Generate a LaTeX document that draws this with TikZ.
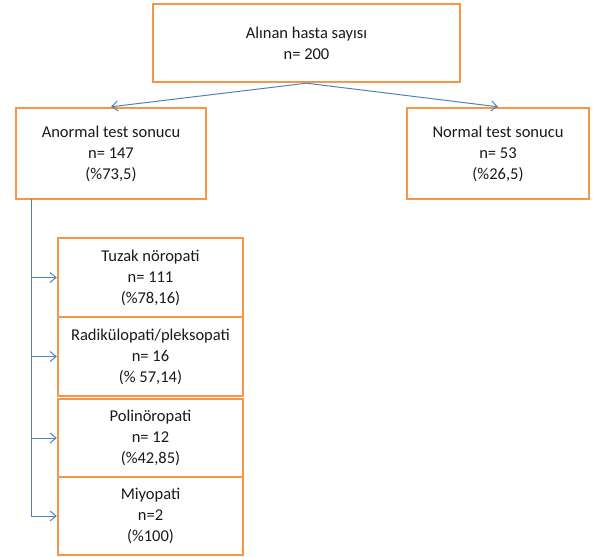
\documentclass[tikz,border=0pt]{standalone}
\usepackage{fontspec}
\setmainfont{Carlito}
\usetikzlibrary{arrows.meta}
\definecolor{boxorange}{HTML}{F79646}
\definecolor{linkblue}{HTML}{4F81BD}
\definecolor{txt}{HTML}{1A1A1A}
\begin{document}
\begin{tikzpicture}[x=1pt,y=-1pt,
  box/.style={draw=boxorange,line width=2.4pt,fill=white,align=center,inner sep=0pt,
    text=txt,font=\fontsize{16.5}{21}\selectfont},
  conn/.style={draw=linkblue,line width=1pt,-{Straight Barb[length=6pt,width=10pt,line width=1pt]}}]
\useasboundingbox (0,0) rectangle (595,557);
\node[box,minimum width=307pt,minimum height=78pt] (top) at (306.5,43) {Alınan hasta sayısı\\n= 200};
\node[box,minimum width=190pt,minimum height=91pt] (left) at (111,153.5) {Anormal test sonucu\\n= 147\\(\%73,5)};
\node[box,minimum width=182pt,minimum height=91pt] (right) at (498,153.5) {Normal test sonucu\\n= 53\\(\%26,5)};
\node[box,minimum width=185pt,minimum height=79pt] (b1) at (150.5,277.5) {Tuzak nöropati\\n= 111\\(\%78,16)};
\node[box,minimum width=185pt,minimum height=79pt] (b2) at (150.5,356.5) {Radikülopati/pleksopati\\n= 16\\(\% 57,14)};
\node[box,minimum width=185pt,minimum height=78pt] (b3) at (150.5,438) {Polinöropati\\n= 12\\(\%42,85)};
\node[box,minimum width=185pt,minimum height=78pt] (b4) at (150.5,516) {Miyopati\\n=2\\(\%100)};
\coordinate (vtop) at (31,199);
\draw[conn] (top.south) -- (left.north);
\draw[conn] (top.south) -- (right.north);
\draw[conn] (vtop) |- (b4.west);
\draw[conn] (vtop|-b1.west) -- (b1.west);
\draw[conn] (vtop|-b2.west) -- (b2.west);
\draw[conn] (vtop|-b3.west) -- (b3.west);
\end{tikzpicture}
\end{document}
